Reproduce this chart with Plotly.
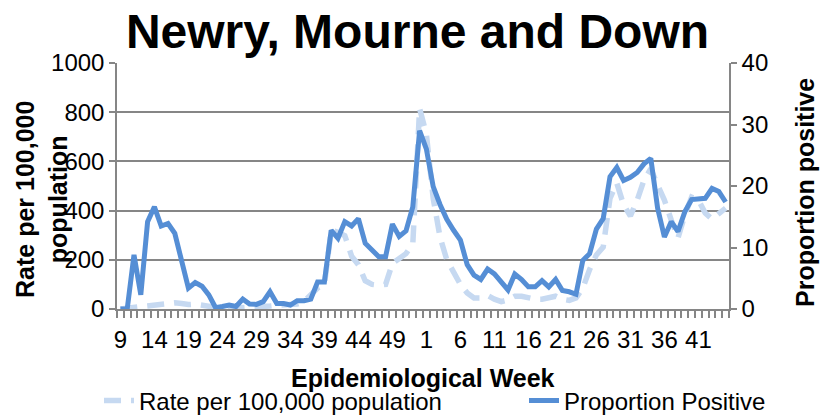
import plotly.graph_objects as go

# Epidemiological weeks: 2020 weeks 9-53, 2021 weeks 1-45
weeks = list(range(9, 54)) + list(range(1, 46))

rate = [0, 3, 5, 5, 10, 12, 16, 22, 25, 22,
        18, 20, 15, 8, 3, 2, 3, 4, 5, 4,
        5, 8, 12, 15, 16, 15, 20, 30, 60, 85,
        98, 320, 312, 298, 215, 180, 115, 100, 97, 100,
        185, 205, 225, 265, 815, 710, 450, 293, 200, 150,
        100, 65, 45, 45, 55, 40, 30, 37, 52, 52,
        45, 40, 40, 48, 52, 40, 35, 45, 85, 160,
        220, 252, 450, 512, 423, 378, 443, 524, 570, 504,
        443, 362, 289, 382, 455, 443, 390, 366, 390, 410]

proportion = [0, 0, 8.8, 2.3, 14.2, 16.6, 13.5, 13.9, 12.3, 8.0,
              3.4, 4.3, 3.7, 2.3, 0.2, 0.4, 0.65, 0.4, 1.6, 0.8,
              0.75, 1.2, 2.8, 0.9, 0.9, 0.65, 1.35, 1.35, 1.6, 4.4,
              4.4, 12.8, 11.5, 14.2, 13.5, 14.7, 10.7, 9.6, 8.5, 8.5,
              13.8, 11.8, 12.7, 16.6, 29.0, 26.0, 19.9, 17.0, 14.6, 12.8,
              11.2, 7.2, 5.5, 4.8, 6.5, 5.7, 4.3, 3.1, 5.7, 4.8,
              3.6, 3.6, 4.6, 3.6, 4.8, 3.0, 2.8, 2.4, 7.9, 9.0,
              13.0, 14.7, 21.5, 23.0, 20.9, 21.4, 22.2, 23.6, 24.5, 16.4,
              11.7, 14.2, 12.6, 15.8, 17.8, 17.8, 18.0, 19.6, 19.1, 17.4]

x = list(range(len(weeks)))
tick_positions = x[::5]
tick_labels = [str(w) for w in weeks[::5]]

FONT = "Liberation Sans, Arial, sans-serif"
GREY = "#868686"

fig = go.Figure()
fig.add_trace(go.Scatter(
    x=x, y=rate, name="Rate per 100,000 population", mode="lines",
    line=dict(color="#C6D9F1", width=5.5, dash="17px,10px"), yaxis="y", legend="legend"))
fig.add_trace(go.Scatter(
    x=x, y=proportion, name="Proportion Positive", mode="lines",
    line=dict(color="#558ED5", width=5), yaxis="y2", legend="legend2"))

legend_common = dict(orientation="h", xanchor="left", yanchor="middle", font=dict(size=24),
                     bgcolor="rgba(0,0,0,0)", itemclick=False, itemdoubleclick=False)

fig.update_layout(
    width=821, height=416, autosize=False,
    margin=dict(l=117, r=92, t=63, b=107, autoexpand=False),
    paper_bgcolor="white", plot_bgcolor="white",
    font=dict(family=FONT, color="black", size=24),
    title=dict(text="Newry, Mourne and Down", x=417.5 / 821, xref="container", xanchor="center",
               y=1 - 31 / 416, yref="container", yanchor="middle",
               font=dict(family=FONT, size=48, weight=700, color="black")),
    xaxis=dict(range=[-0.5, 89.5], tickmode="array", tickvals=tick_positions, ticktext=tick_labels,
               ticks="", showline=True, linecolor=GREY, linewidth=1.5, showgrid=False, zeroline=False,
               tickfont=dict(size=24), ticklabelstandoff=8,
               minor=dict(ticks="outside", tickmode="linear", tick0=-0.5, dtick=1, ticklen=7,
                          tickcolor=GREY, tickwidth=1.5, showgrid=False)),
    yaxis=dict(range=[0, 1000], dtick=200, showgrid=True, gridcolor=GREY, gridwidth=1.5,
               showline=True, linecolor=GREY, linewidth=1.5, ticks="outside", ticklen=6,
               tickcolor=GREY, tickwidth=1.5, zeroline=False, tickfont=dict(size=24)),
    yaxis2=dict(range=[0, 40], dtick=10, overlaying="y", side="right", showgrid=False,
                showline=True, linecolor=GREY, linewidth=1.5, ticks="outside", ticklen=6,
                tickcolor=GREY, tickwidth=1.5, zeroline=False, tickfont=dict(size=24)),
    legend=dict(x=(99 - 117) / 612, y=(309 - 401) / 246, **legend_common),
    legend2=dict(x=(524 - 117) / 612, y=(309 - 401) / 246, **legend_common),
    showlegend=True,
)

fig.add_annotation(text="Rate per 100,000<br>population", textangle=-90, xref="paper", yref="paper",
                   x=(41 - 117) / 612, y=(309 - 200) / 246, xanchor="center", yanchor="middle",
                   showarrow=False, font=dict(family=FONT, size=25, weight=700))
fig.add_annotation(text="Proportion positive", textangle=-90, xref="paper", yref="paper",
                   x=(805 - 117) / 612, y=(309 - 193) / 246, xanchor="center", yanchor="middle",
                   showarrow=False, font=dict(family=FONT, size=25, weight=700))
fig.add_annotation(text="Epidemiological Week", xref="paper", yref="paper",
                   x=(423 - 117) / 612, y=(309 - 378) / 246, xanchor="center", yanchor="middle",
                   showarrow=False, font=dict(family=FONT, size=25, weight=700))

fig.write_html("out.html", config={"displayModeBar": False},
               post_script="document.body.style.margin='0px';document.body.style.overflow='hidden';")
